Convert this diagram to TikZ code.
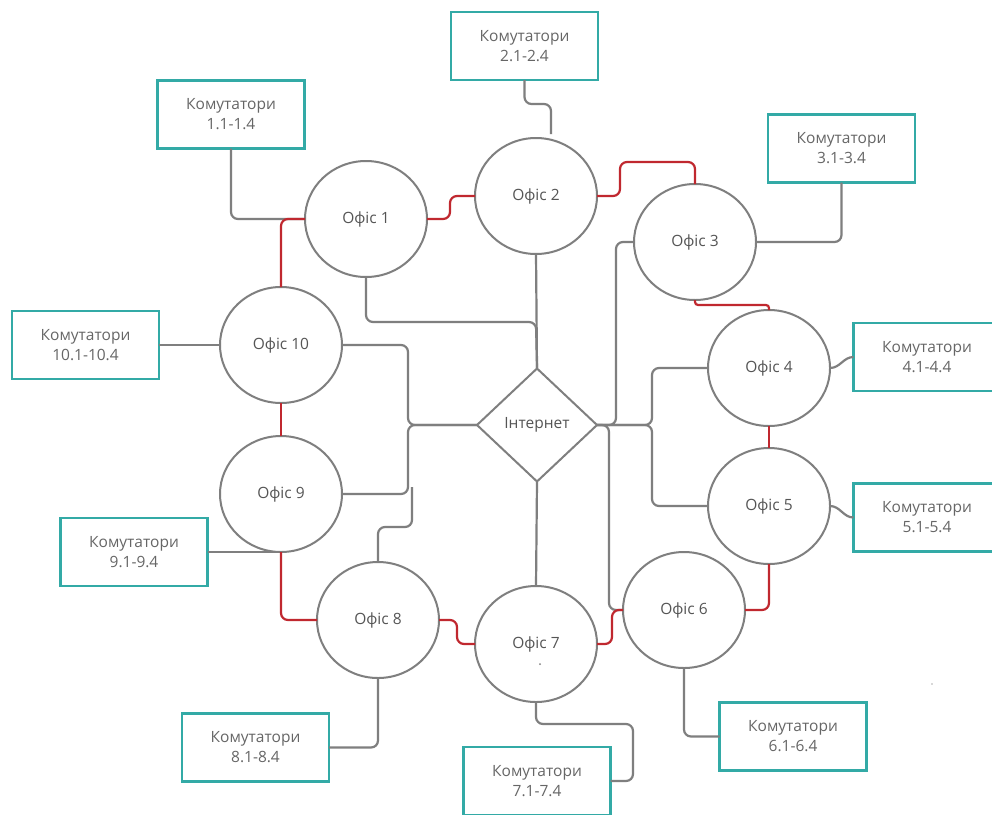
\documentclass[tikz,border=0pt]{standalone}
\usepackage{fontspec}
\setmainfont{Open Sans}
\usetikzlibrary{shapes.geometric}
\definecolor{tealb}{HTML}{33AAA6}
\definecolor{lgray}{HTML}{7F7F7F}
\definecolor{tgray}{HTML}{555555}
\definecolor{redl}{HTML}{C0282F}
\begin{document}
\begin{tikzpicture}[x=1pt,y=-1pt,
  office/.style={ellipse, draw=lgray, line width=2pt, minimum width=122pt, minimum height=116pt,
    inner sep=0pt, outer sep=0pt, text=tgray, font=\fontsize{15.5}{18}\selectfont, fill=white},
  switchbox/.style={rectangle, draw=tealb, line width=2.6pt, minimum width=147pt, minimum height=68pt,
    inner sep=0pt, outer sep=0pt, align=center, text=tgray!90, font=\fontsize{15.5}{20}\selectfont, fill=white},
  inet/.style={diamond, draw=lgray, line width=2pt, minimum width=120pt, minimum height=113pt,
    inner sep=0pt, outer sep=0pt, text=tgray, font=\fontsize{15.5}{18}\selectfont, fill=white},
  gline/.style={draw=lgray, line width=2.2pt, rounded corners=7pt},
  rline/.style={draw=redl, line width=2.2pt, rounded corners=7pt},
]
\useasboundingbox (0,0) rectangle (992,814);
\clip (0,0) rectangle (992,814);
\fill[white] (0,0) rectangle (992,814);

% offices
\node[office] (O1) at (366,219) {Офіс 1};
\node[office] (O2) at (536,196) {Офіс 2};
\node[office] (O3) at (695,242) {Офіс 3};
\node[office] (O4) at (769,368) {Офіс 4};
\node[office] (O5) at (769,506) {Офіс 5};
\node[office] (O6) at (684,610) {Офіс 6};
\node[office] (O7) at (536,644) {Офіс 7};
\node[office] (O8) at (378,620) {Офіс 8};
\node[office] (O9) at (281,494) {Офіс 9};
\node[office] (O10) at (281,345) {Офіс 10};
\node[inet] (I) at (537,425) {Інтернет};

% switch boxes
\node[switchbox] (K1) at (231,114.5) {Комутатори\\1.1-1.4};
\node[switchbox] (K2) at (524.5,46) {Комутатори\\2.1-2.4};
\node[switchbox] (K3) at (841.5,148.5) {Комутатори\\3.1-3.4};
\node[switchbox] (K4) at (927,357) {Комутатори\\4.1-4.4};
\node[switchbox] (K5) at (927,517.5) {Комутатори\\5.1-5.4};
\node[switchbox] (K6) at (793,736.5) {Комутатори\\6.1-6.4};
\node[switchbox] (K7) at (537,781) {Комутатори\\7.1-7.4};
\node[switchbox] (K8) at (255.5,747.5) {Комутатори\\8.1-8.4};
\node[switchbox] (K9) at (134,552) {Комутатори\\9.1-9.4};
\node[switchbox] (K10) at (85.5,345) {Комутатори\\10.1-10.4};

% helper coordinates
\coordinate (c2) at (551,134);
\coordinate (j1) at (536,322);
\coordinate (jl) at (408,425);
\coordinate (c8a) at (412,527);
\coordinate (c8b) at (412,487);
\coordinate (jr1) at (616,425);
\coordinate (jr2) at (652,425);
\coordinate (jr3) at (609,425);
\coordinate (r2) at (695,162);
\coordinate (k7c) at (633,781);

% gray connectors: offices to switches
\draw[gline] (K1.south) |- (O1.west);
\draw[gline] (K2.south) -- ++(0,24) -| (c2);
\draw[gline] (K3.south) |- (O3.east);
\draw[gline] (O4.east) to[out=0,in=180] (K4.west);
\draw[gline] (O5.east) to[out=0,in=180] (K5.west);
\draw[gline] (O6.south) |- (K6.west);
\draw[gline] (O7.south) -- ++(0,22) -| (k7c) -- (K7.east);
\draw[gline] (O8.south) |- (K8.east);
\draw[gline] (K9.east) -- (O9.south);
\draw[gline] (K10.east) -- (O10.west);

% gray connectors: offices to internet
\draw[gline] (O1.south) |- (j1) -- (I.north);
\draw[gline] (O2.south) -- (I.north);
\draw[gline] (O10.east) -| (jl) -- (I.west);
\draw[gline] (O9.east) -| (jl) -- (I.west);
\draw[gline] (O8.north) |- (c8a) -- (c8b);
\draw[gline] (O3.west) -| (jr1) -- (I.east);
\draw[gline] (O4.west) -| (jr2) -- (I.east);
\draw[gline] (O5.west) -| (jr2) -- (I.east);
\draw[gline] (I.east) -- (jr3) |- (O6.west);
\draw[gline] (O7.north) -- (I.south);

% red ring
\draw[rline] (O1.east) -- ++(23,0) |- (O2.west);
\draw[rline] (O2.east) -- ++(23,0) |- (r2) -- (O3.north);
\draw[rline, rounded corners=3pt] (O3.south) -- ++(0,5) -| (O4.north);
\draw[rline] (O4.south) -- (O5.north);
\draw[rline] (O5.south) |- (O6.east);
\draw[rline] (O6.west) -- ++(-11,0) |- (O7.east);
\draw[rline] (O8.east) -- ++(18,0) |- (O7.west);
\draw[rline] (O9.south) |- (O8.west);
\draw[rline] (O10.south) -- (O9.north);
\draw[rline] (O10.north) |- (O1.west);

\fill[lgray] (540,664) circle (1pt);
\fill[lgray!60] (932,684) circle (0.8pt);
\end{tikzpicture}
\end{document}
